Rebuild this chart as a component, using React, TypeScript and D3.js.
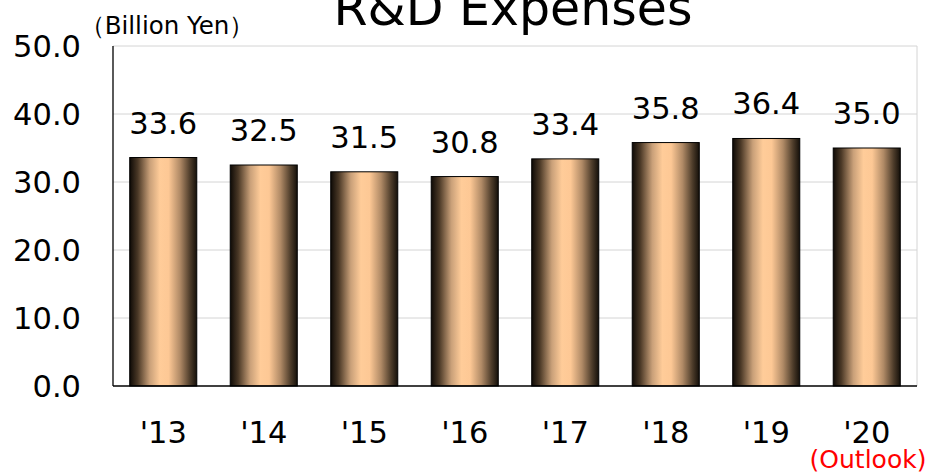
import React from "react";
import * as d3 from "d3";

const categories = ["'13", "'14", "'15", "'16", "'17", "'18", "'19", "'20"];
const values = [33.6, 32.5, 31.5, 30.8, 33.4, 35.8, 36.4, 35.0];
const yTicks = [0, 10, 20, 30, 40, 50];
const title = "R&D Expenses";
const unitLabel = "（Billion Yen）";
const outlookLabel = "(Outlook)";

const W = 927;
const H = 475;
const margin = { left: 113, right: 10, top: 46, bottom: 89 };
const FONT = "'DejaVu Sans', Verdana, sans-serif";

export default function App() {
  const x = d3
    .scaleBand<string>()
    .domain(categories)
    .range([margin.left, W - margin.right])
    .paddingInner(0.333)
    .paddingOuter(0.1665);
  const y = d3.scaleLinear().domain([0, 50]).range([H - margin.bottom, margin.top]);
  const x0 = margin.left;
  const x1 = W - margin.right;

  return (
    <svg
      width={W}
      height={H}
      style={{ position: "absolute", left: 0, top: 0, background: "#fff" }}
      fontFamily={FONT}
    >
      <defs>
        <linearGradient id="barGrad" x1="0" x2="1" y1="0" y2="0">
          <stop offset="0" stopColor="#0e0a06" />
          <stop offset="0.12" stopColor="#4a3826" />
          <stop offset="0.3" stopColor="#c9a079" />
          <stop offset="0.45" stopColor="#ffcc99" />
          <stop offset="0.58" stopColor="#fdc895" />
          <stop offset="0.75" stopColor="#b08a66" />
          <stop offset="0.9" stopColor="#4d3c2a" />
          <stop offset="1" stopColor="#15100a" />
        </linearGradient>
      </defs>

      {/* gridlines */}
      {yTicks.map((t) =>
        t === 0 ? null : (
          <line key={t} x1={x0} x2={x1} y1={y(t)} y2={y(t)} stroke="#d4d4d4" strokeWidth={1} />
        )
      )}
      <line x1={x1} x2={x1} y1={y(50)} y2={y(0)} stroke="#d4d4d4" strokeWidth={1} />

      {/* bars */}
      {categories.map((c, i) => (
        <rect
          key={c}
          x={x(c)!}
          y={y(values[i])}
          width={x.bandwidth()}
          height={y(0) - y(values[i])}
          fill="url(#barGrad)"
          stroke="#000"
          strokeWidth={1}
        />
      ))}

      {/* axes */}
      <line x1={x0} x2={x0} y1={y(50)} y2={y(0)} stroke="#000" strokeWidth={1.3} />
      <line x1={x0} x2={x1} y1={y(0)} y2={y(0)} stroke="#000" strokeWidth={1.3} />

      {/* y tick labels */}
      {yTicks.map((t) => (
        <text
          key={t}
          x={81}
          y={y(t)}
          dy="0.37em"
          textAnchor="end"
          fontSize={30.5}
          fill="#000"
        >
          {t.toFixed(1)}
        </text>
      ))}

      {/* value labels */}
      {categories.map((c, i) => (
        <text
          key={c}
          x={x(c)! + x.bandwidth() / 2}
          y={y(values[i]) - 24}
          textAnchor="middle"
          fontSize={30.5}
          fill="#000"
        >
          {values[i].toFixed(1)}
        </text>
      ))}

      {/* x labels */}
      {categories.map((c) => (
        <text
          key={c}
          x={x(c)! + x.bandwidth() / 2}
          y={443}
          textAnchor="middle"
          fontSize={30.5}
          fill="#000"
        >
          {c}
        </text>
      ))}

      <text x={868} y={468} textAnchor="middle" fontSize={25} fill="#ff0000">
        {outlookLabel}
      </text>

      <text x={167} y={34} textAnchor="middle" fontSize={24.5} fill="#000">
        {unitLabel}
      </text>

      <text x={513} y={25} textAnchor="middle" fontSize={49} fill="#000">
        {title}
      </text>
    </svg>
  );
}
